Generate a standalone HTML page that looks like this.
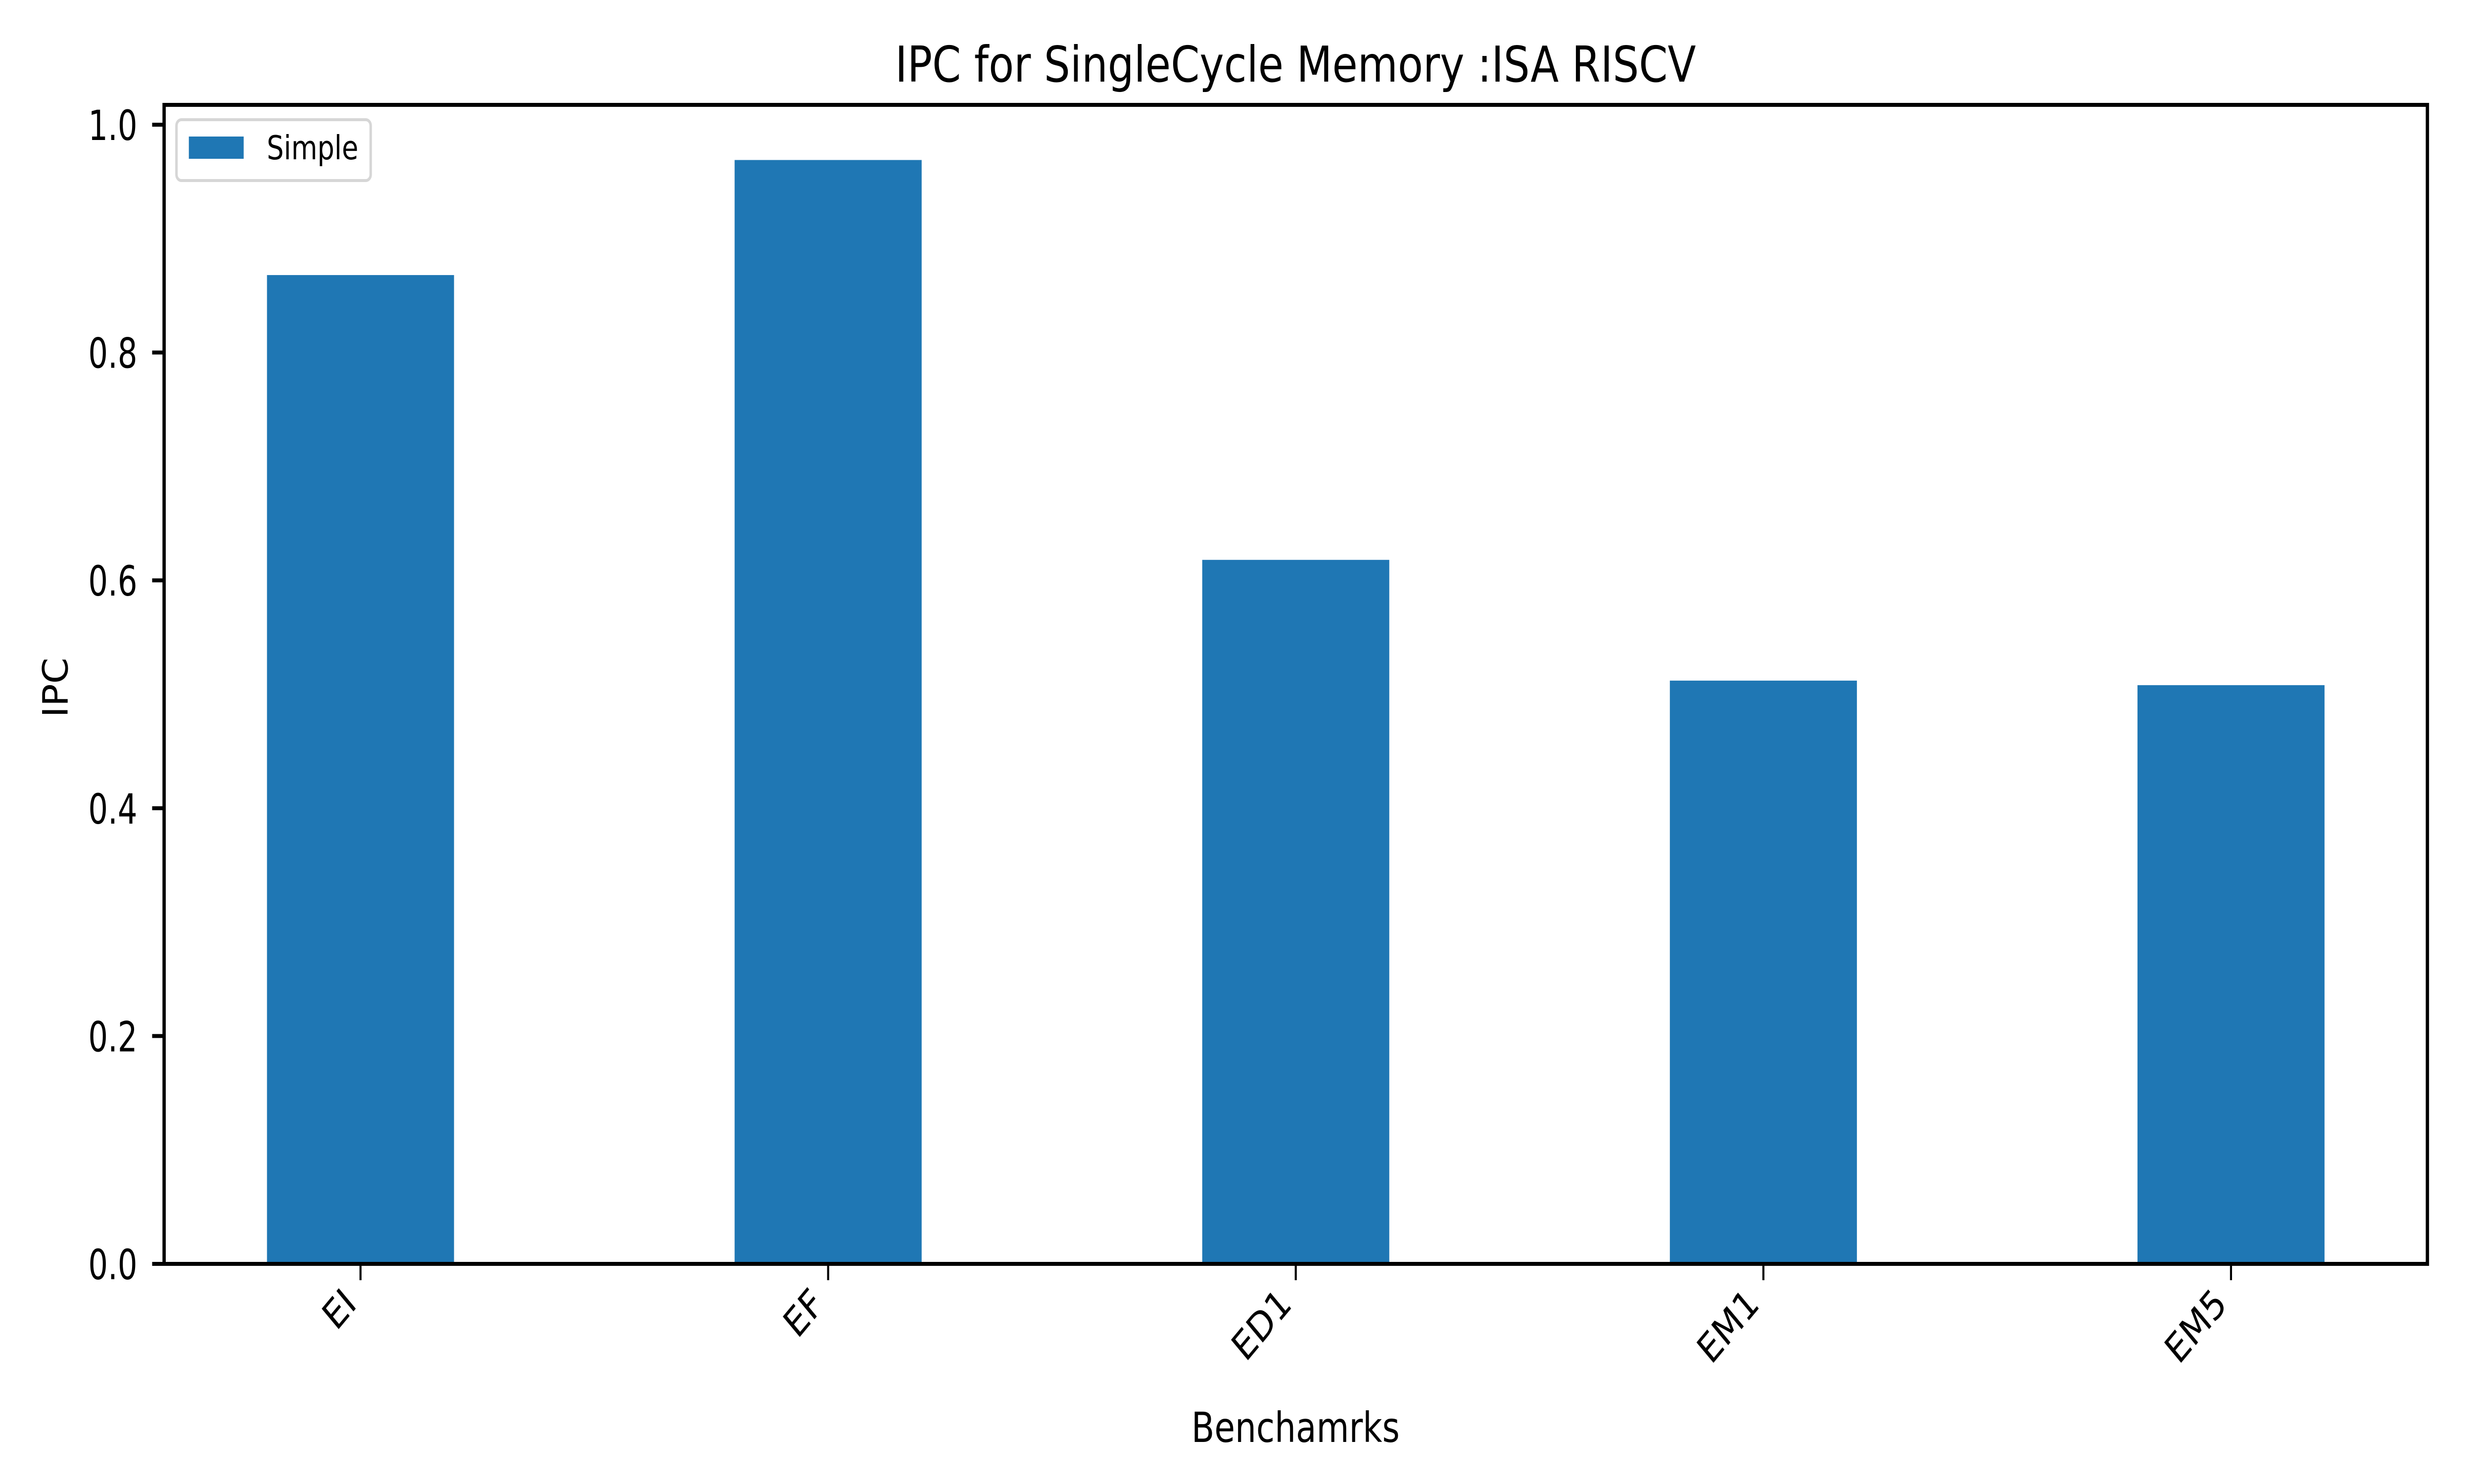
<!DOCTYPE html>
<html>
<head>
<meta charset="utf-8">
<style>
html,body{margin:0;padding:0;background:#fff;width:100%;height:100%;overflow:hidden;}
svg{display:block;position:absolute;left:0;top:0;width:100vw;height:100vh;}
text{font-family:"DejaVu Sans","Liberation Sans",sans-serif;fill:#000;}
</style>
</head>
<body>
<svg id="chart" viewBox="0 0 6000 3000" preserveAspectRatio="none" xmlns="http://www.w3.org/2000/svg">
<rect x="0" y="0" width="6000" height="3000" fill="#fff"/>
<g id="bars"></g>
<g id="yticks"></g>
<g id="xticks"></g>
<rect x="398" y="212" width="5489" height="2343" fill="none" stroke="#000" stroke-width="8"/>
<text x="3142" y="165" font-size="100" text-anchor="middle" textLength="1942" lengthAdjust="spacingAndGlyphs">IPC for SingleCycle Memory :ISA RISCV</text>
<text x="3142" y="2915" font-size="84" text-anchor="middle" textLength="505" lengthAdjust="spacingAndGlyphs">Benchamrks</text>
<text transform="translate(164,1390) rotate(-90)" x="0" y="0" font-size="84" text-anchor="middle" textLength="121" lengthAdjust="spacingAndGlyphs">IPC</text>
<g>
<rect x="428" y="242" width="471" height="123" rx="12" fill="#fff" fill-opacity="0.8" stroke="#d6d6d6" stroke-width="6"/>
<rect x="458" y="276" width="133" height="45" fill="#1f77b4"/>
<text x="647" y="322" font-size="67" textLength="222" lengthAdjust="spacingAndGlyphs">Simple</text>
</g>
</svg>
<script>
const categories = ["EI", "EF", "ED1", "EM1", "EM5"];
const ipcValues = [0.868, 0.969, 0.618, 0.512, 0.508];
const yTickValues = [0.0, 0.2, 0.4, 0.6, 0.8, 1.0];
const yTickLabels = ["0.0", "0.2", "0.4", "0.6", "0.8", "1.0"];

const NS = "http://www.w3.org/2000/svg";
const plotL = 398, plotR = 5887, plotT = 212, plotB = 2555;
const yMin = 0, yMax = 1.0174;
const xMin = -0.42, xMax = categories.length - 1 + 0.42;
function xScale(i){ return plotL + (i - xMin) / (xMax - xMin) * (plotR - plotL); }
function yScale(v){ return plotB - (v - yMin) / (yMax - yMin) * (plotB - plotT); }
const barW = 0.4 * (xScale(1) - xScale(0));

const barsG = document.getElementById("bars");
categories.forEach((c, i) => {
  const r = document.createElementNS(NS, "rect");
  const top = yScale(ipcValues[i]);
  r.setAttribute("x", xScale(i) - barW / 2);
  r.setAttribute("y", top);
  r.setAttribute("width", barW);
  r.setAttribute("height", yScale(0) - top);
  r.setAttribute("fill", "#1f77b4");
  
  
  barsG.appendChild(r);
});

const yG = document.getElementById("yticks");
yTickValues.forEach((v, i) => {
  const y = yScale(v);
  const l = document.createElementNS(NS, "line");
  l.setAttribute("x1", plotL - 29); l.setAttribute("x2", plotL);
  l.setAttribute("y1", y); l.setAttribute("y2", y);
  l.setAttribute("stroke", "#000"); l.setAttribute("stroke-width", "8");
  
  
  yG.appendChild(l);
  const t = document.createElementNS(NS, "text");
  t.setAttribute("x", 333); t.setAttribute("y", y + 31);
  t.setAttribute("font-size", "84");
  t.setAttribute("text-anchor", "end");
  t.setAttribute("textLength", "119");
  t.setAttribute("lengthAdjust", "spacingAndGlyphs");
  t.textContent = yTickLabels[i];
  
  
  yG.appendChild(t);
});

const xG = document.getElementById("xticks");
categories.forEach((c, i) => {
  const x = xScale(i);
  const l = document.createElementNS(NS, "line");
  l.setAttribute("x1", x); l.setAttribute("x2", x);
  l.setAttribute("y1", plotB); l.setAttribute("y2", plotB + 33);
  l.setAttribute("stroke", "#000"); l.setAttribute("stroke-width", "5");
  
  
  xG.appendChild(l);
  const t = document.createElementNS(NS, "text");
  t.setAttribute("transform", "translate(" + (x - 6) + "," + (plotB + 85) + ") rotate(-45)");
  t.setAttribute("x", 0); t.setAttribute("y", 0);
  t.setAttribute("font-size", "80");
  t.setAttribute("text-anchor", "end");
  t.textContent = c;
  
  
  xG.appendChild(t);
});
</script>
</body>
</html>
